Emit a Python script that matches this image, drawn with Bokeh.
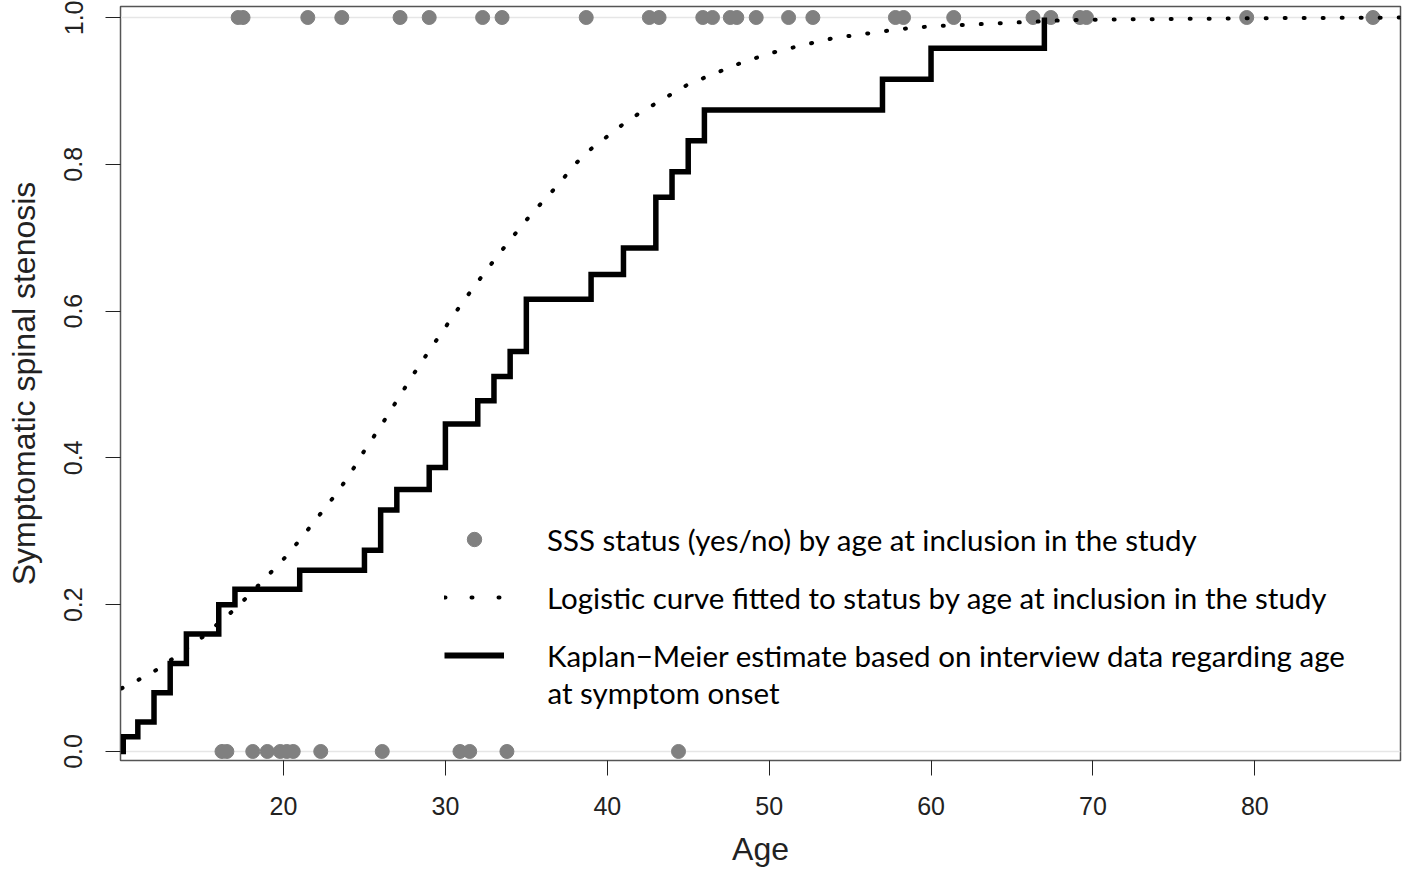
from bokeh.plotting import figure
from bokeh.models import (ColumnDataSource, Range1d, FixedTicker, Span, Legend,
                          LegendItem, Label, NumeralTickFormatter)
from bokeh.embed import file_html
from bokeh.resources import INLINE

# --- data ---
# SSS status by age at inclusion: yes (1) / no (0)
ages_yes = [17.2, 17.5, 21.5, 23.6, 27.2, 29.0, 32.3, 33.5, 38.7, 42.6, 43.2,
            45.9, 46.5, 47.6, 48.0, 49.2, 51.2, 52.7, 57.8, 58.3, 61.4, 66.3,
            67.4, 69.2, 69.6, 79.5, 87.3]
ages_no = [16.2, 16.5, 18.1, 19.0, 19.8, 20.2, 20.6, 22.3, 26.1, 30.9, 31.5,
           33.8, 44.4]

# Logistic curve fitted to status
logit_age = [10, 11, 12, 13, 14, 15, 16, 17, 18, 19, 20, 21, 22, 23, 24, 25,
             26, 27, 28, 29, 30, 31, 32, 33, 34, 35, 36, 37, 38, 39, 40, 41,
             42, 43, 44, 45, 46, 48, 50, 52, 54, 56, 58, 60, 62, 64, 66, 68,
             70, 75, 80, 85, 90]
logit_p = [0.086, 0.097, 0.109, 0.124, 0.140, 0.156, 0.175, 0.194, 0.216,
           0.239, 0.262, 0.288, 0.316, 0.344, 0.374, 0.410, 0.443, 0.478,
           0.513, 0.546, 0.578, 0.610, 0.640, 0.669, 0.697, 0.724, 0.749,
           0.773, 0.800, 0.821, 0.838, 0.855, 0.870, 0.883, 0.896, 0.909,
           0.918, 0.936, 0.951, 0.962, 0.972, 0.978, 0.984, 0.988, 0.990,
           0.992, 0.994, 0.996, 0.997, 0.998, 0.999, 0.9995, 1.000]

# Kaplan-Meier estimate (age at symptom onset)
km_age = [0, 10.1, 11, 12, 13, 14, 16, 17, 21, 25, 26, 27, 29, 30, 32, 33, 34,
          35, 39, 41, 43, 44, 45, 46, 57, 60, 67]
km_est = [0, 0.020, 0.040, 0.080, 0.120, 0.160, 0.200, 0.221, 0.247, 0.274,
          0.329, 0.357, 0.387, 0.446, 0.478, 0.511, 0.545, 0.616, 0.650,
          0.686, 0.755, 0.790, 0.832, 0.874, 0.916, 0.958, 1.0]

x_ticks = [20, 30, 40, 50, 60, 70, 80]
y_ticks = [0.0, 0.2, 0.4, 0.6, 0.8, 1.0]

legend_labels = ["SSS status (yes/no) by age at inclusion in the study",
                 "Logistic curve fitted to status by age at inclusion in the study",
                 "Kaplan\u2212Meier estimate based on interview data regarding age"]
legend_cont = "at symptom onset"

NAN = float("nan")

# --- figure ---
p = figure(width=1402, height=869,
           x_range=Range1d(9.93, 89.0), y_range=Range1d(-0.0123, 1.015),
           output_backend="svg", toolbar_location=None,
           min_border_left=120, min_border_right=2, min_border_top=6,
           min_border_bottom=109,
           x_axis_label="Age", y_axis_label="Symptomatic spinal stenosis")
p.grid.visible = False
p.background_fill_color = "white"
p.border_fill_color = "white"
p.outline_line_color = "#555555"
p.outline_line_width = 1.5

for yv in [0, 1]:
    p.add_layout(Span(location=yv, dimension="width", line_color="#e6e6e6",
                      line_width=1.5, level="underlay"))

src_yes = ColumnDataSource(dict(age=ages_yes, status=[1] * len(ages_yes)))
src_no = ColumnDataSource(dict(age=ages_no, status=[0] * len(ages_no)))
p.scatter("age", "status", source=src_yes, size=14, color="#808080")
p.scatter("age", "status", source=src_no, size=14, color="#808080")

p.line(logit_age, logit_p, line_width=4, line_dash="1 18", line_cap="round",
       color="black")
p.step(km_age, km_est, mode="after", line_width=5.5, color="black",
       line_join="miter")

# legend glyph renderers (NaN data: nothing drawn in the plot)
lg_pt = p.scatter([NAN], [NAN], size=19, color="#808080")
lg_dot = p.line([NAN, NAN], [NAN, NAN], line_width=4, line_dash="1 26",
                line_cap="round", color="black")
lg_km = p.line([NAN, NAN], [NAN, NAN], line_width=6, color="black")

legend = Legend(items=[LegendItem(label=legend_labels[0], renderers=[lg_pt]),
                       LegendItem(label=legend_labels[1], renderers=[lg_dot]),
                       LegendItem(label=legend_labels[2], renderers=[lg_km])],
                location=(324, 87), orientation="vertical",
                glyph_width=60, glyph_height=36, label_height=36,
                label_standoff=43, spacing=22, padding=0, margin=0,
                border_line_alpha=0, background_fill_alpha=0,
                label_text_font="Lato", label_text_font_size="29.5px",
                label_text_color="black")
p.add_layout(legend)
p.add_layout(Label(x=427, y=68, x_units="screen", y_units="screen",
                   text=legend_cont, text_font="Lato",
                   text_font_size="29.5px",
                   text_baseline="middle", text_color="black"))

# axes
for ax in [p.xaxis[0], p.yaxis[0]]:
    ax.major_tick_out = 15
    ax.major_tick_in = 0
    ax.minor_tick_line_color = None
    ax.axis_line_color = "#555555"
    ax.major_tick_line_color = "#222222"
    ax.major_label_text_font = "Liberation Sans"
    ax.major_label_text_font_size = "25px"
    ax.major_label_text_color = "#222222"
    ax.axis_label_text_font = "Liberation Sans"
    ax.axis_label_text_font_size = "32px"
    ax.axis_label_text_font_style = "normal"
    ax.axis_label_text_color = "#222222"

p.xaxis.ticker = FixedTicker(ticks=x_ticks)
p.yaxis.ticker = FixedTicker(ticks=y_ticks)
p.yaxis.formatter = NumeralTickFormatter(format="0.0")
p.yaxis.major_label_orientation = "vertical"
p.xaxis.major_label_standoff = 21
p.xaxis.axis_label_standoff = 13
p.yaxis.major_label_standoff = 23
p.yaxis.axis_label_standoff = 20

open("out.html", "w").write(file_html(p, INLINE))
